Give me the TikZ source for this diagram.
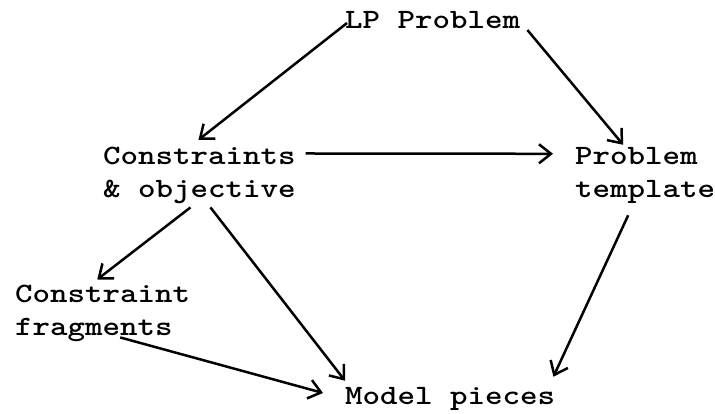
\documentclass[tikz,border=0pt]{standalone}
\usetikzlibrary{arrows.meta}
\begin{document}
\begin{tikzpicture}[x=1pt,y=-1pt,
  lbl/.style={font=\ttfamily\bfseries\fontsize{28}{32.5}\selectfont, inner sep=0pt, anchor=base west, align=left, xscale=1.19, transform shape},
  arr/.style={line width=2.5pt, -{Straight Barb[length=12pt,width=19pt,line width=2.5pt]}}]
\useasboundingbox (0,0) rectangle (715,413);
\node[lbl] (lp) at (345,28) {LP Problem};
\node[lbl] (cons) at (103,197) {Constraints\\\& objective};
\node[lbl] (tmpl) at (575,197) {Problem\\template};
\node[lbl] (frag) at (15,335) {Constraint\\fragments};
\node[lbl] (model) at (345,404) {Model pieces};
\draw[arr] ([shift={(2,3.5)}]lp.west) -- ([shift={(-1,-7)}]cons.north);
\draw[arr] ([shift={(7,10.5)}]lp.east) -- ([shift={(-22,-2.4)}]tmpl.north);
\draw[arr] ([shift={(9.6,6.6)}]cons.north east) -- ([shift={(-22,6.6)}]tmpl.north west);
\draw[arr] ([shift={(-9,4)}]cons.south) -- ([shift={(-5.5,-5.4)}]frag.north);
\draw[arr] ([shift={(11,4)}]cons.south) -- ([shift={(0,-6)}]model.north west);
\draw[arr] ([shift={(17.5,-4)}]frag.south) -- ([shift={(-22,-5.5)}]model.west);
\draw[arr] ([shift={(-17,12)}]tmpl.south) -- ([shift={(-2,-10)}]model.north east);
\end{tikzpicture}
\end{document}
